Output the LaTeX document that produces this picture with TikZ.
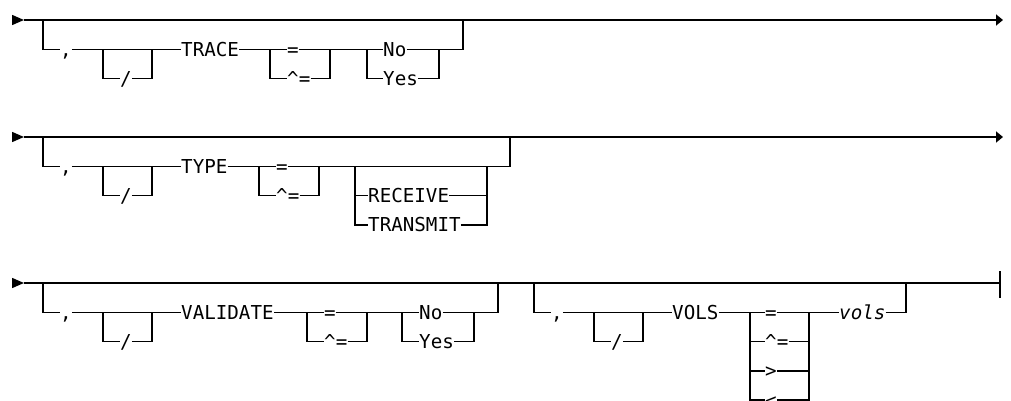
\documentclass[tikz,border=0pt]{standalone}
\usepackage{fontspec}
\setmonofont{DejaVu Sans Mono}
\usetikzlibrary{arrows.meta,positioning,calc}

\begin{document}
\begin{tikzpicture}[
    x=1pt, y=-1pt,
    every node/.style={inner sep=0pt, text height=14pt, text depth=0pt},
    kw/.style={anchor=west, font=\ttfamily\fontsize{19.2}{20}\selectfont},
    var/.style={kw, font=\ttfamily\itshape\fontsize{19.2}{20}\selectfont},
    rail/.style={line width=1.5pt},
    start/.style={rail, -{Triangle[length=12pt,width=10pt]}},
    goon/.style={rail, -{Triangle[length=7pt,width=11pt]}},
    stop/.style={line width=2.6pt}
]
\useasboundingbox (0,0) rectangle (1011,401);
\clip (0,0) rectangle (1011,401);

% main lines
\coordinate (trace-in) at (12,20);     \coordinate (trace-go) at (24,20);     \coordinate (trace-out) at (1003,20);
\coordinate (type-in) at (12,137);     \coordinate (type-go) at (24,137);     \coordinate (type-out) at (1003,137);
\coordinate (validate-in) at (12,283); \coordinate (validate-go) at (24,283); \coordinate (vols-out) at (1000,283);
\foreach \n in {trace, type, validate}
    \draw[start] (\n-in) -- (\n-go);
\draw[goon] (trace-go) -- (trace-out);
\draw[goon] (type-go) -- (type-out);
\draw[rail] (validate-go) -- (vols-out);

% optional ", [/] KEYWORD" part
\foreach \n/\x/\y/\k in {trace/43/20/TRACE, type/43/137/TYPE, validate/43/283/VALIDATE, vols/534/283/VOLS} {
    \coordinate (\n-top) at (\x,\y);
    \coordinate (\n-sl) at (\x+60,\y+29.3);
    \coordinate (\n-sr) at (\x+109,\y+29.3);
    \node[kw] (\n-comma) at (\x+17,\y+29.3) {,};
    \node[kw] (\n-slash) at (\x+77,\y+58.6) {/};
    \node[kw] (\n) at (\x+138,\y+29.3) {\k};
    \draw[rail] (\n-top) |- (\n-comma.west);
    \draw[rail] (\n-comma.east) -- (\n.west);
    \draw[rail] (\n-sl) |- (\n-slash.west);
    \draw[rail] (\n-slash.east) -| (\n-sr);
}

% = or ^=
\foreach \n/\l/\r/\t/\y in {trace/270/330/287/49.3, type/259/319/276/166.3, validate/307/367/324/312.3} {
    \coordinate (\n-el) at (\l,\y);
    \coordinate (\n-er) at (\r,\y);
    \node[kw] (\n-is) at (\t,\y) {=};
    \node[kw] (\n-not) at (\t,\y+29.3) {\textasciicircum=};
    \draw[rail] (\n.east) -- (\n-is.west);
    \draw[rail] (\n-el) |- (\n-not.west);
    \draw[rail] (\n-not.east) -| (\n-er);
}

% No or Yes
\foreach \n/\l/\r/\t/\e/\y in {trace/367/439/383/463/49.3, validate/402/474/419/498/312.3} {
    \coordinate (\n-yl) at (\l,\y);
    \coordinate (\n-yr) at (\r,\y);
    \coordinate (\n-end) at (\e,\y-29.3);
    \node[kw] (\n-no) at (\t,\y) {No};
    \node[kw] (\n-yes) at (\t,\y+29.3) {Yes};
    \draw[rail] (\n-is.east) -- (\n-no.west);
    \draw[rail] (\n-no.east) -| (\n-end);
    \draw[rail] (\n-yl) |- (\n-yes.west);
    \draw[rail] (\n-yes.east) -| (\n-yr);
}

% RECEIVE or TRANSMIT
\coordinate (type-rl) at (355,166.3);
\coordinate (type-rr) at (487,166.3);
\coordinate (type-end) at (510,137);
\node[kw] (type-rcv) at (368,195.6) {RECEIVE};
\node[kw] (type-snd) at (368,224.9) {TRANSMIT};
\draw[rail] (type-is.east) -| (type-end);
\draw[rail] (type-rl) |- (type-snd.west);
\draw[rail] (type-snd.east) -| (type-rr);
\draw[rail] (type-rl |- type-rcv.west) -- (type-rcv.west);
\draw[rail] (type-rcv.east) -- (type-rr |- type-rcv.east);

% VOLS value
\coordinate (vols-el) at (750,312.3);
\coordinate (vols-er) at (809,312.3);
\coordinate (vols-end) at (906,283);
\coordinate (vols-stop) at (935,283);
\coordinate (vols-bar1) at (1000,271);
\coordinate (vols-bar2) at (1000,298);
\node[kw] (vols-is) at (765,312.3) {=};
\node[kw] (vols-not) at (765,341.6) {\textasciicircum=};
\node[kw] (vols-gt) at (765,370.9) {>};
\node[kw] (vols-lt) at (765,400.2) {<};
\node[var] (vols-val) at (839,312.3) {vols};
\draw[rail] (vols.east) -- (vols-is.west);
\draw[rail] (vols-is.east) -- (vols-val.west);
\draw[rail] (vols-val.east) -| (vols-end);
\draw[rail] (vols-el) |- (vols-lt.west);
\draw[rail] (vols-lt.east) -| (vols-er);
\foreach \c in {not, gt} {
    \draw[rail] (vols-el |- vols-\c.west) -- (vols-\c.west);
    \draw[rail] (vols-\c.east) -- (vols-er |- vols-\c.east);
}
\draw[stop] (vols-end) -- (vols-stop);
\draw[rail] (vols-bar1) -- (vols-bar2);

\end{tikzpicture}
\end{document}
